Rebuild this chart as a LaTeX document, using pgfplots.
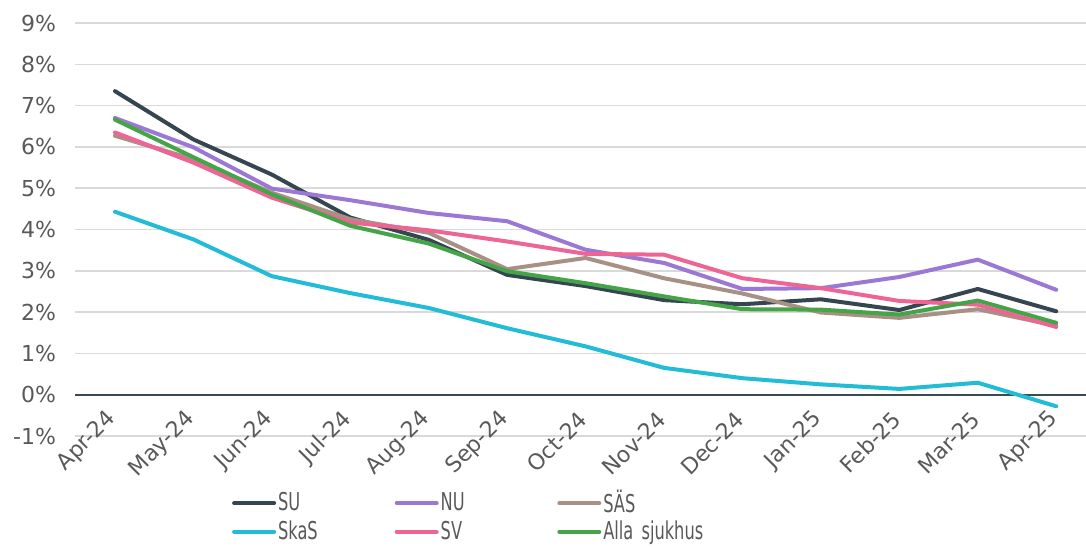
\documentclass[border=0pt]{standalone}
\usepackage{fontspec}
\setmainfont{DejaVu Sans}
\newfontfamily\legfont[FakeStretch=0.66]{DejaVu Sans}
\usepackage{pgfplots}
\pgfplotsset{compat=1.18}

\definecolor{cSU}{HTML}{364650}
\definecolor{cNU}{HTML}{9B78D3}
\definecolor{cSAS}{HTML}{A89085}
\definecolor{cSkaS}{HTML}{22BCD6}
\definecolor{cSV}{HTML}{EE6595}
\definecolor{cAlla}{HTML}{45A447}
\definecolor{gridgray}{HTML}{D9D9D9}
\definecolor{zerocol}{HTML}{3A4A52}
\definecolor{txt}{HTML}{595959}

\begin{document}
\begin{tikzpicture}
\path[use as bounding box] (-37.5pt,-55pt) rectangle (505.5pt,218pt);
\begin{axis}[
    scale only axis, width=505.5pt, height=206.5pt,
    xmin=-0.51, xmax=12.38, ymin=-1, ymax=9,
    xtick={0,...,12},
    xticklabels={Apr-24,May-24,Jun-24,Jul-24,Aug-24,Sep-24,Oct-24,Nov-24,Dec-24,Jan-25,Feb-25,Mar-25,Apr-25},
    ytick={-1,0,...,9},
    yticklabels={-1\%,0\%,1\%,2\%,3\%,4\%,5\%,6\%,7\%,8\%,9\%},
    axis line style={draw=none},
    major tick length=0pt,
    ymajorgrids, grid style={color=gridgray, line width=0.75pt},
    tick label style={font=\fontsize{11}{13}\selectfont, text=txt},
    yticklabel style={anchor=east, xshift=-6pt},
    xticklabel style={rotate=45, anchor=east, inner sep=0pt, xshift=6.5pt, yshift=8pt},
    legend columns=3,
    legend cell align=left,
    legend style={draw=none, fill=none, at={(0.155,-0.126)}, anchor=north west,
        font=\legfont\fontsize{12.3}{14}\selectfont, text=txt,
        row sep=0.5pt, inner sep=0pt,
        nodes={inner sep=1pt},
        /tikz/every even column/.append style={text width=57.3pt}},
    legend image code/.code={\draw[#1] (0pt,0pt) -- (20pt,0pt);},
    every axis plot/.append style={line width=2pt, line join=round, line cap=round},
]
\draw[zerocol, line width=1pt] (axis cs:-0.51,0) -- (axis cs:12.38,0);

% SU
\addplot[cSU] coordinates {
 (0,7.35)(1,6.18)(2,5.33)(3,4.29)(4,3.75)(5,2.90)(6,2.63)(7,2.29)(8,2.19)(9,2.31)(10,2.05)(11,2.56)(12,2.02)};
\addlegendentry{SU}
% NU
\addplot[cNU] coordinates {
 (0,6.70)(1,5.99)(2,4.99)(3,4.71)(4,4.40)(5,4.20)(6,3.51)(7,3.19)(8,2.56)(9,2.58)(10,2.85)(11,3.27)(12,2.54)};
\addlegendentry{NU}
% SÄS
\addplot[cSAS] coordinates {
 (0,6.27)(1,5.70)(2,4.89)(3,4.25)(4,3.92)(5,3.04)(6,3.31)(7,2.82)(8,2.45)(9,1.99)(10,1.86)(11,2.07)(12,1.67)};
\addlegendentry{SÄS}
% SkaS
\addplot[cSkaS] coordinates {
 (0,4.43)(1,3.76)(2,2.87)(3,2.46)(4,2.10)(5,1.61)(6,1.17)(7,0.65)(8,0.40)(9,0.25)(10,0.14)(11,0.29)(12,-0.28)};
\addlegendentry{SkaS}
% SV
\addplot[cSV] coordinates {
 (0,6.35)(1,5.62)(2,4.77)(3,4.17)(4,3.98)(5,3.71)(6,3.41)(7,3.39)(8,2.82)(9,2.58)(10,2.27)(11,2.18)(12,1.64)};
\addlegendentry{SV}
% Alla sjukhus
\addplot[cAlla] coordinates {
 (0,6.66)(1,5.75)(2,4.85)(3,4.09)(4,3.66)(5,2.99)(6,2.70)(7,2.38)(8,2.07)(9,2.06)(10,1.94)(11,2.28)(12,1.74)};
\addlegendentry{Alla sjukhus}
\end{axis}
\end{tikzpicture}
\end{document}
